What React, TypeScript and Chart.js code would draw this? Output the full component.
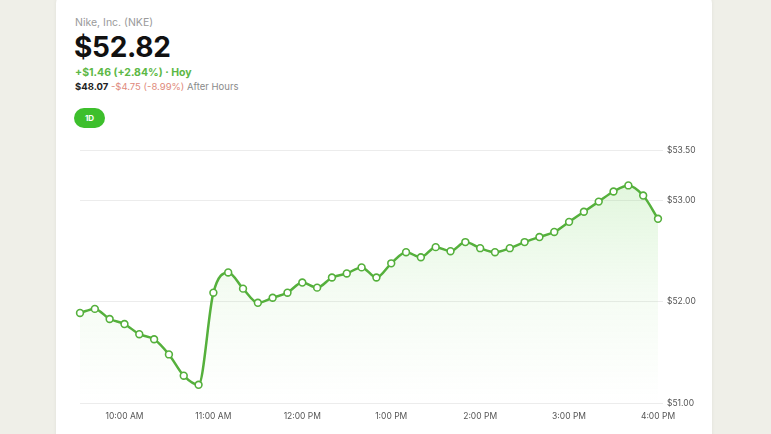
import React, { useEffect, useRef } from "react";
import { Chart, registerables } from "chart.js";

Chart.register(...registerables);

const times = [
  "9:30 AM", "9:40 AM", "9:50 AM", "10:00 AM", "10:10 AM", "10:20 AM", "10:30 AM", "10:40 AM", "10:50 AM",
  "11:00 AM", "11:10 AM", "11:20 AM", "11:30 AM", "11:40 AM", "11:50 AM",
  "12:00 PM", "12:10 PM", "12:20 PM", "12:30 PM", "12:40 PM", "12:50 PM",
  "1:00 PM", "1:10 PM", "1:20 PM", "1:30 PM", "1:40 PM", "1:50 PM",
  "2:00 PM", "2:10 PM", "2:20 PM", "2:30 PM", "2:40 PM", "2:50 PM",
  "3:00 PM", "3:10 PM", "3:20 PM", "3:30 PM", "3:40 PM", "3:50 PM",
  "4:00 PM",
];

const prices = [
  51.89, 51.93, 51.83, 51.78, 51.68, 51.63, 51.48, 51.27, 51.18,
  52.09, 52.29, 52.13, 51.99, 52.04, 52.09,
  52.19, 52.14, 52.24, 52.28, 52.34, 52.24,
  52.38, 52.49, 52.44, 52.54, 52.5, 52.59,
  52.53, 52.49, 52.53, 52.59, 52.64, 52.69,
  52.79, 52.89, 52.99, 53.09, 53.15, 53.05,
  52.82,
];

const hourLabels = ["10:00 AM", "11:00 AM", "12:00 PM", "1:00 PM", "2:00 PM", "3:00 PM", "4:00 PM"];
const priceTicks = [51, 52, 53, 53.5];

const FONT = "Inter, 'Open Sans', 'DejaVu Sans', sans-serif";
const GREEN = "#55b03c";

export default function App() {
  const ref = useRef<HTMLCanvasElement | null>(null);

  useEffect(() => {
    const canvas = ref.current;
    if (!canvas) return;
    const chart = new Chart(canvas, {
      type: "line",
      data: {
        labels: times,
        datasets: [
          {
            data: prices,
            borderColor: GREEN,
            borderWidth: 2.5,
            pointRadius: 3.4,
            pointBorderWidth: 1.6,
            pointBackgroundColor: "#ffffff",
            pointBorderColor: GREEN,
            cubicInterpolationMode: "monotone",
            fill: "start",
            backgroundColor: (ctx: any) => {
              const area = ctx.chart.chartArea;
              if (!area) return "rgba(120,210,100,0.15)";
              const g = ctx.chart.ctx.createLinearGradient(0, area.top, 0, area.bottom);
              g.addColorStop(0, "rgba(120,215,100,0.26)");
              g.addColorStop(0.55, "rgba(120,215,100,0.08)");
              g.addColorStop(1, "rgba(120,215,100,0)");
              return g;
            },
          },
        ],
      },
      options: {
        animation: false,
        responsive: true,
        maintainAspectRatio: false,
        layout: { padding: { left: 24, top: 15, right: 0, bottom: 0 } },
        plugins: { legend: { display: false }, tooltip: { enabled: false } },
        scales: {
          x: {
            type: "category",
            offset: false,
            grid: { display: false, drawTicks: false },
            border: { display: false },
            afterFit: (s: any) => {
              s.height = 31;
            },
            ticks: {
              autoSkip: false,
              maxRotation: 0,
              padding: 8,
              color: "#555555",
              font: { family: FONT, size: 8.5 },
              callback: (_v: any, i: number) => (hourLabels.includes(times[i]) ? times[i] : ""),
            },
          },
          y: {
            position: "right",
            min: 51,
            max: 53.5,
            afterBuildTicks: (s: any) => {
              s.ticks = priceTicks.map((v) => ({ value: v }));
            },
            afterFit: (s: any) => {
              s.width = 54;
            },
            grid: { color: "#ececec", lineWidth: 1, drawTicks: true, tickLength: 5 },
            border: { display: false },
            ticks: {
              padding: 4,
              color: "#555555",
              font: { family: FONT, size: 8.5 },
              callback: (v: any) => "$" + Number(v).toFixed(2),
            },
          },
        },
      },
    });
    return () => chart.destroy();
  }, []);

  return (
    <div
      style={{
        position: "fixed",
        inset: 0,
        width: 771,
        height: 434,
        background: "#efefe8",
        overflow: "hidden",
        fontFamily: FONT,
      }}
    >
      <div
        style={{
          position: "absolute",
          left: 56,
          top: -8,
          width: 656,
          height: 470,
          background: "#ffffff",
          borderRadius: 12,
          boxShadow: "0 0 4px rgba(0,0,0,0.06)",
        }}
      />
      <div style={{ position: "absolute", left: 75, top: 16, fontSize: 10.5, color: "#9a9a9a", lineHeight: "14px" }}>
        Nike, Inc. (NKE)
      </div>
      <div
        style={{
          position: "absolute",
          left: 74,
          top: 30,
          fontSize: 28,
          fontWeight: 700,
          color: "#111111",
          lineHeight: "34px",
          letterSpacing: -0.3,
        }}
      >
        $52.82
      </div>
      <div
        style={{ position: "absolute", left: 75, top: 66, fontSize: 10.5, fontWeight: 700, color: "#5cb845", lineHeight: "14px" }}
      >
        +$1.46 (+2.84%) · Hoy
      </div>
      <div style={{ position: "absolute", left: 75, top: 80, fontSize: 9.5, lineHeight: "14px", whiteSpace: "nowrap" }}>
        <span style={{ fontWeight: 700, color: "#222222" }}>$48.07</span>
        <span style={{ color: "#e08a7c" }}> -$4.75 (-8.99%)</span>
        <span style={{ color: "#8a8a8a" }}> After Hours</span>
      </div>
      <div
        style={{
          position: "absolute",
          left: 74,
          top: 108,
          width: 31,
          height: 20,
          borderRadius: 10,
          background: "#3dbf2c",
          color: "#ffffff",
          fontSize: 8,
          fontWeight: 700,
          lineHeight: "20px",
          textAlign: "center",
        }}
      >
        1D
      </div>
      <div style={{ position: "absolute", left: 56, top: 135, width: 656, height: 299 }}>
        <canvas ref={ref} />
      </div>
    </div>
  );
}
